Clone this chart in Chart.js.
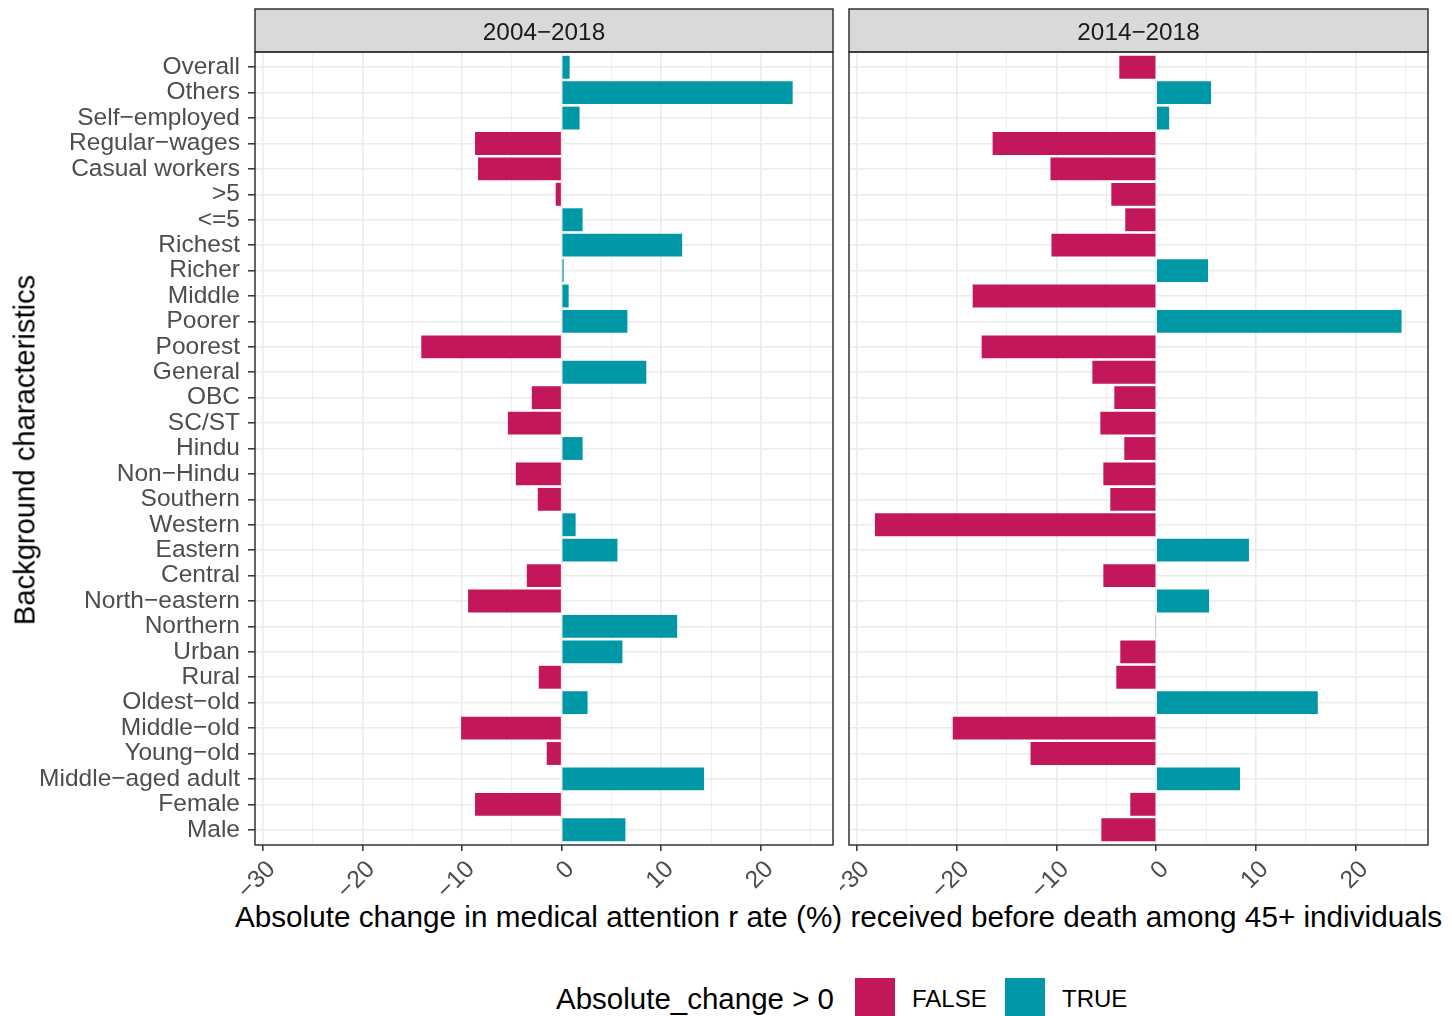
<!DOCTYPE html>
<html>
<head>
<meta charset="utf-8">
<script src="https://cdn.jsdelivr.net/npm/chart.js"></script>
<style>
  body { margin: 0; background: #fff; width: 1452px; height: 1016px; overflow: hidden; position: relative;
         font-family: "Liberation Sans", Arial, sans-serif; }
  canvas { position: absolute; top: 0; }
  #c1 { left: 0; }
  #c2 { left: 840px; }
  .t { position: absolute; white-space: nowrap; color: #000; }
  .key { position: absolute; width: 40px; height: 38px; top: 978px; }
</style>
</head>
<body>
<canvas id="c1" width="840" height="900"></canvas>
<canvas id="c2" width="612" height="900"></canvas>

<div class="t" style="left:838.5px;top:917px;font-size:29.7px;transform:translate(-50%,-50%)">Absolute change in medical attention r ate (%) received before death among 45+ individuals</div>
<div class="t" style="left:25px;top:450px;font-size:29.2px;transform:translate(-50%,-50%) rotate(-90deg)">Background characteristics</div>

<div class="t" style="left:556px;top:999px;font-size:29.5px;transform:translateY(-50%)">Absolute_change &gt; 0</div>
<div class="key" style="left:855px;background:#C2185B"></div>
<div class="t" style="left:912px;top:999px;font-size:24px;transform:translateY(-50%)">FALSE</div>
<div class="key" style="left:1005px;background:#0097A7"></div>
<div class="t" style="left:1062px;top:999px;font-size:24px;transform:translateY(-50%)">TRUE</div>

<script>
// categories, top to bottom
const categories = ["Overall", "Others", "Self−employed", "Regular−wages", "Casual workers", ">5", "<=5",
  "Richest", "Richer", "Middle", "Poorer", "Poorest", "General", "OBC", "SC/ST", "Hindu", "Non−Hindu",
  "Southern", "Western", "Eastern", "Central", "North−eastern", "Northern", "Urban", "Rural",
  "Oldest−old", "Middle−old", "Young−old", "Middle−aged adult", "Female", "Male"];

// absolute change, 2004-2018
const change2004 = [0.8, 23.2, 1.8, -8.7, -8.4, -0.6, 2.1, 12.1, 0.2, 0.7, 6.6, -14.1, 8.5, -3.0, -5.4,
  2.1, -4.6, -2.4, 1.4, 5.6, -3.5, -9.4, 11.6, 6.1, -2.3, 2.6, -10.1, -1.5, 14.3, -8.7, 6.4];

// absolute change, 2014-2018
const change2014 = [-3.7, 5.5, 1.3, -16.4, -10.6, -4.5, -3.1, -10.5, 5.2, -18.4, 24.6, -17.5, -6.4, -4.2, -5.6,
  -3.2, -5.3, -4.6, -28.2, 9.3, -5.3, 5.3, -0.1, -3.6, -4.0, 16.2, -20.4, -12.6, 8.4, -2.6, -5.5];

const panelTitles = ["2004−2018", "2014−2018"];
const xTickLabels = [-30, -20, -10, 0, 10, 20];
const gridValues = [-30, -25, -20, -15, -10, -5, 0, 5, 10, 15, 20, 25];

const FALSE_COL = "#C2185B";
const TRUE_COL = "#0097A7";
const FONT = "'Liberation Sans', Arial, sans-serif";

Chart.defaults.font.family = FONT;

const fmt = v => v < 0 ? "−" + Math.abs(v) : String(v);

// strip, panel border and rotated x labels
const panelDeco = {
  id: "panelDeco",
  afterDraw(chart, args, opts) {
    const { ctx, chartArea: a } = chart;
    const w = a.right - a.left;
    ctx.save();
    ctx.fillStyle = "#D9D9D9";
    ctx.fillRect(a.left, 9, w, a.top - 9);
    ctx.strokeStyle = "#333333";
    ctx.lineWidth = 1.5;
    ctx.strokeRect(a.left, 9, w, a.top - 9);
    ctx.fillStyle = "#1A1A1A";
    ctx.font = "24.3px " + FONT;
    ctx.textAlign = "center";
    ctx.textBaseline = "middle";
    ctx.fillText(opts.title, a.left + w / 2, (9 + a.top) / 2 + 2.5);

    ctx.strokeRect(a.left, a.top, w, a.bottom - a.top);

    // rotated labels, right end hung just below and right of the tick
    const xs = chart.scales.x;
    ctx.fillStyle = "#4D4D4D";
    ctx.font = "24.5px " + FONT;
    ctx.textAlign = "right";
    xTickLabels.forEach(v => {
      const x = xs.getPixelForValue(v);
      ctx.save();
      ctx.translate(x + 8.7, a.bottom + 20.5);
      ctx.rotate(-Math.PI / 4);
      ctx.fillText(fmt(v), 0, 0);
      ctx.restore();
    });
    ctx.restore();
  }
};

function makePanel(id, values, title, showY) {
  return new Chart(document.getElementById(id), {
    type: "bar",
    data: {
      labels: categories,
      datasets: [{
        data: values,
        backgroundColor: values.map(v => v > 0 ? TRUE_COL : FALSE_COL),
        borderWidth: 0,
        barPercentage: 0.9,
        categoryPercentage: 1.0
      }]
    },
    options: {
      indexAxis: "y",
      responsive: false,
      animation: false,
      devicePixelRatio: 1,
      layout: { padding: { top: 52, right: showY ? 7 : 24, left: 0, bottom: 0 } },
      plugins: {
        legend: { display: false },
        tooltip: { enabled: false },
        panelDeco: { title: title }
      },
      scales: {
        x: {
          type: "linear",
          min: -30.8,
          max: 27.25,
          bounds: "data",
          afterBuildTicks: s => { s.ticks = gridValues.map(v => ({ value: v })); },
          grid: {
            color: "#EBEBEB",
            lineWidth: c => (c.tick && c.tick.value % 10 === 0) ? 1.6 : 0.8,
            drawTicks: true,
            tickLength: 6,
            tickWidth: 1.5,
            tickColor: c => (c.tick && c.tick.value % 10 === 0) ? "#333333" : "rgba(0,0,0,0)"
          },
          border: { display: false },
          ticks: { display: false },
          afterFit: s => { s.height = 55; }
        },
        y: {
          type: "category",
          offset: true,
          // ggplot-style discrete expansion: 0.6 of a band at each end
          afterBuildTicks: s => {
            s._startValue = s.min - 0.6;
            s._valueRange = (s.max - s.min) + 1.2;
          },
          grid: {
            offset: false,
            color: "#EBEBEB",
            lineWidth: 1.6,
            drawTicks: showY,
            tickLength: 7,
            tickWidth: 1.5,
            tickColor: "#333333"
          },
          border: { display: false },
          ticks: {
            display: showY,
            autoSkip: false,
            color: "#4D4D4D",
            font: { size: 24.5 },
            padding: 8
          },
          afterFit: s => { s.width = showY ? 255 : 9; }
        }
      }
    },
    plugins: [panelDeco]
  });
}

makePanel("c1", change2004, panelTitles[0], true);
makePanel("c2", change2014, panelTitles[1], false);
</script>
</body>
</html>
